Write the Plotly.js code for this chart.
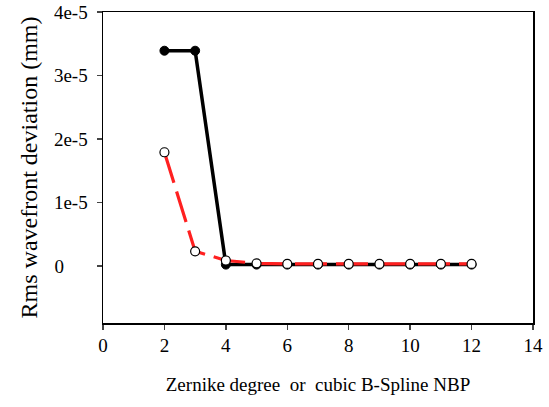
<!DOCTYPE html>
<html>
<head>
<meta charset="utf-8">
<script src="https://cdn.plot.ly/plotly-3.0.1.min.js"></script>
<style>html,body{margin:0;padding:0;background:#fff;}#chart{width:549px;height:407px;}</style>
</head>
<body>
<div id="chart"></div>
<script>
const xVals = [2, 3, 4, 5, 6, 7, 8, 9, 10, 11, 12];
const zernike = [3.39e-5, 3.39e-5, 2e-7, 2e-7, 2e-7, 2e-7, 2e-7, 2e-7, 2e-7, 2e-7, 2e-7];
const bspline = [1.79e-5, 2.3e-6, 8.5e-7, 4e-7, 3e-7, 3e-7, 3e-7, 3e-7, 3e-7, 3e-7, 3e-7];
const yTickVals = [0, 1e-5, 2e-5, 3e-5, 4e-5];
const yTickText = ['0\u00A0\u00A0\u00A0\u00A0\u00A0', '1e-5', '2e-5', '3e-5', '4e-5'];
const xTickVals = [0, 2, 4, 6, 8, 10, 12, 14];

const font = 'Liberation Serif';
const traces = [
  {x: xVals, y: zernike, mode: 'lines+markers', type: 'scatter',
   line: {color: '#000', width: 3.5},
   marker: {color: '#000', size: 9, line: {color: '#000', width: 1}}},
  {x: xVals, y: bspline, mode: 'lines+markers', type: 'scatter',
   line: {color: '#ff2020', width: 3.2, dash: '32px,9px'},
   marker: {color: '#fff', size: 9, line: {color: '#000', width: 1.2}}}
];
const layout = {
  width: 549, height: 407,
  margin: {l: 103, r: 16, t: 12, b: 84},
  paper_bgcolor: '#fff', plot_bgcolor: '#fff',
  showlegend: false,
  font: {family: font, color: '#000', size: 19},
  xaxis: {
    range: [0, 14], tickvals: xTickVals, ticks: 'outside', ticklen: 5, tickwidth: 1.5,
    showline: true, linewidth: 1.5, linecolor: '#000', mirror: true, showgrid: false, zeroline: false,
    tickfont: {family: font, size: 19},
    title: {text: 'Zernike degree\u00A0 or\u00A0 cubic B-Spline NBP', font: {family: font, size: 19}, standoff: 22}
  },
  yaxis: {
    range: [-0.9e-5, 4e-5], tickvals: yTickVals, ticktext: yTickText, ticks: 'outside', ticklen: 5, tickwidth: 1.5,
    showline: true, linewidth: 1.5, linecolor: '#000', mirror: true, showgrid: false, zeroline: false,
    tickfont: {family: font, size: 19}, ticklabelstandoff: 5,
    title: {text: 'Rms wavefront deviation (mm)\u00A0\u00A0\u00A0\u00A0\u00A0', font: {family: font, size: 24}, standoff: 9}
  }
};
Plotly.newPlot('chart', traces, layout, {displayModeBar: false, staticPlot: true});
</script>
</body>
</html>
